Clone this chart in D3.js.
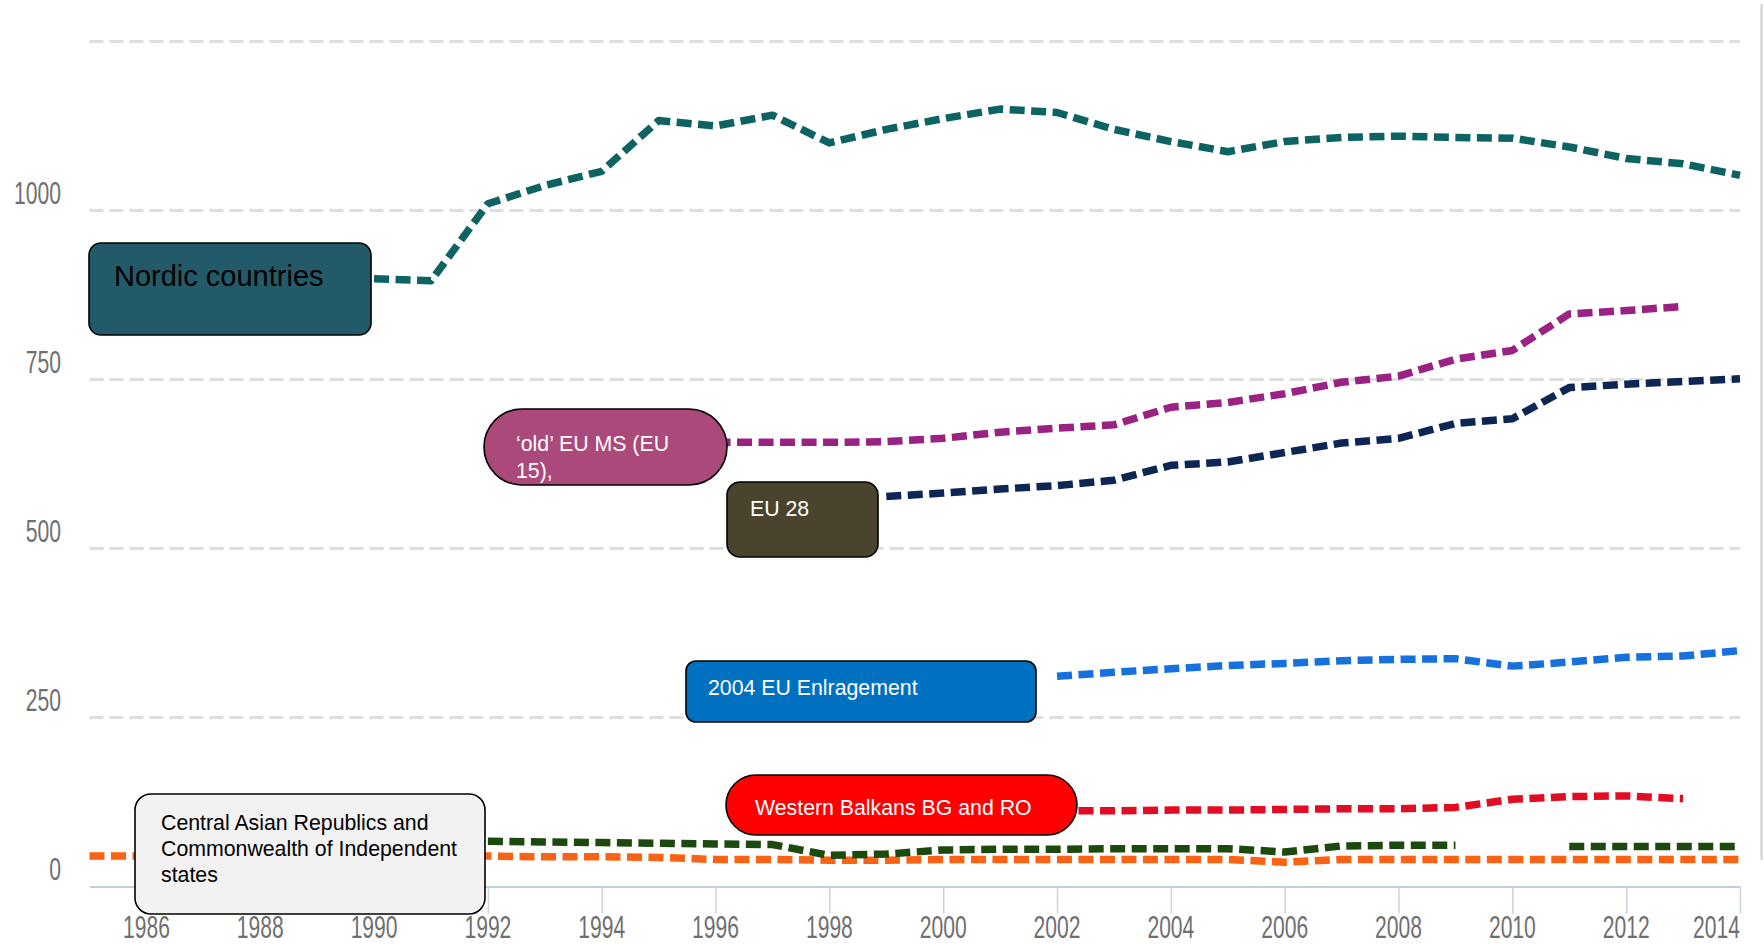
<!DOCTYPE html>
<html>
<head>
<meta charset="utf-8">
<script src="https://cdn.jsdelivr.net/npm/d3@7/dist/d3.min.js"></script>
<style>
  html, body { margin: 0; padding: 0; background: #ffffff; }
  svg { display: block; }
</style>
</head>
<body>
<svg id="chart" width="1764" height="945"></svg>
<script>
// Years on the x axis
const years = [1985,1986,1987,1988,1989,1990,1991,1992,1993,1994,1995,1996,1997,1998,1999,
               2000,2001,2002,2003,2004,2005,2006,2007,2008,2009,2010,2011,2012,2013,2014];

// One value per year, null where a group has no figure
const nordic = [null,null,null,null,null,
  899,896,1010,1037,1058,1133,1125,1141,1100,1120,1136,1150,1145,1120,1102,1087,1102,1108,1110,1108,1107,1094,1077,1069,1052];
const oldEu15 = [null,null,null,null,null,null,null,null,null,null,null,
  657,657,657,658,663,672,678,683,709,716,729,746,755,780,793,847,852,858,null];
const eu28 = [null,null,null,null,null,null,null,null,null,null,null,null,null,null,
  577,582,588,593,601,623,628,642,656,663,685,692,738,743,747,751];
const enlargement2004 = [null,null,null,null,null,null,null,null,null,null,null,null,null,null,null,null,null,
  311,317,322,327,330,334,336,337,326,332,339,341,349];
const westernBalkans = [null,null,null,null,null,null,null,null,null,null,null,null,null,null,null,null,null,
  112,112,113,113,114,115,115,117,129,133,134,130,null];
const centralAsian = [null,null,null,null,null,null,null,
  67,66,65,64,63,62,46,48,54,55,55,56,56,56,51,60,61,61,null,59,59,59,59];
const commonwealth = [45,45,45,45,45,45,45,45,44,44,43,40,40,39,39,40,40,40,40,40,40,36,40,40,40,40,40,40,40,40];

// Axis ticks
const yTickLabels = [0, 250, 500, 750, 1000];
const yGridValues = [250, 500, 750, 1000, 1250];
const xTickLabels = [1986,1988,1990,1992,1994,1996,1998,2000,2002,2004,2006,2008,2010,2012,2014];

// Series drawing order and colours
const seriesList = [
  { name: "commonwealth", values: commonwealth, color: "#fa6212" },
  { name: "centralAsian", values: centralAsian, color: "#1f480c" },
  { name: "westernBalkans", values: westernBalkans, color: "#e10b23" },
  { name: "enlargement2004", values: enlargement2004, color: "#1270dd" },
  { name: "eu28", values: eu28, color: "#0c2552" },
  { name: "oldEu15", values: oldEu15, color: "#9a2083" },
  { name: "nordic", values: nordic, color: "#0c6262" }
];

// Text boxes laid over the lines
const boxes = [
  { lines: ["Nordic countries"], x: 89, y: 243, w: 282, h: 92, r: 12, fill: "#235a69", color: "#000000", size: 29, tx: 114, ty: 286, lh: 0 },
  { lines: ["\u2018old\u2019 EU MS (EU", "15),"], x: 484, y: 409, w: 243, h: 76, r: 38, fill: "#ab4a7a", color: "#ffffff", size: 21.3, tx: 516, ty: 451, lh: 26.5 },
  { lines: ["EU 28"], x: 727, y: 482, w: 151, h: 75, r: 13, fill: "#4a442e", color: "#ffffff", size: 21.3, tx: 750, ty: 516, lh: 0 },
  { lines: ["2004 EU Enlragement"], x: 686, y: 661, w: 350, h: 61, r: 10, fill: "#0070c0", color: "#ffffff", size: 21.3, tx: 708, ty: 695, lh: 0 },
  { lines: ["Western Balkans BG and RO"], x: 726, y: 775, w: 351, h: 60, r: 30, fill: "#ff0000", color: "#ffffff", size: 21.3, tx: 755, ty: 815, lh: 0 },
  { lines: ["Central Asian Republics and", "Commonwealth of Independent", "states"], x: 135, y: 794, w: 350, h: 120, r: 16, fill: "#f2f2f2", color: "#000000", size: 21.3, tx: 161, ty: 830, lh: 25.8 }
];

const svg = d3.select("#chart");

const x = d3.scaleLinear().domain([1985, 2014]).range([89.5, 1740]);
const y = d3.scaleLinear().domain([0, 1250]).range([886.5, 41.5]);

const defs = svg.append("defs");
defs.append("filter").attr("id", "soft")
  .attr("x", "-5%").attr("y", "-50%").attr("width", "110%").attr("height", "200%")
  .append("feGaussianBlur").attr("stdDeviation", 0.7);

// Dashed horizontal grid
svg.append("g")
  .selectAll("line")
  .data(yGridValues)
  .join("line")
  .attr("x1", x(1985)).attr("x2", x(2014))
  .attr("y1", d => y(d)).attr("y2", d => y(d))
  .attr("stroke", "#dedede")
  .attr("stroke-width", 3)
  .attr("stroke-dasharray", "14,6");

// Right frame line
svg.append("line")
  .attr("x1", 1761.5).attr("x2", 1761.5)
  .attr("y1", 4).attr("y2", 860)
  .attr("stroke", "#cdcdcd").attr("stroke-width", 2);

// X axis built from d3.axisBottom, restyled
const xAxis = d3.axisBottom(x)
  .tickValues(xTickLabels)
  .tickFormat(d3.format("d"))
  .tickSize(27)
  .tickSizeOuter(0);

const gx = svg.append("g")
  .attr("transform", `translate(0,${y(0)})`)
  .call(xAxis);
gx.select(".domain").attr("stroke", "#c0cfe0").attr("stroke-width", 2);
gx.selectAll(".tick line").attr("stroke", "#c8d4e3").attr("stroke-width", 1.5);
gx.selectAll(".tick text").remove();

const tickFont = "'Liberation Sans', Arial, sans-serif";
const squeeze = 0.68;

// X tick labels, drawn condensed
const xl = svg.append("g");
xTickLabels.forEach((yr, i) => {
  const last = i === xTickLabels.length - 1;
  xl.append("text")
    .attr("transform", `translate(${x(yr)},938) scale(${squeeze},1)`)
    .attr("text-anchor", last ? "end" : "middle")
    .attr("font-family", tickFont)
    .attr("font-size", 31)
    .attr("fill", "#6f6f6f")
    .text(yr);
});

// Y tick labels sit just above their grid line
const yl = svg.append("g");
yTickLabels.forEach(v => {
  yl.append("text")
    .attr("transform", `translate(61,${y(v) - 7}) scale(0.66,1)`)
    .attr("text-anchor", "end")
    .attr("font-family", tickFont)
    .attr("font-size", 32)
    .attr("fill", "#6f6f6f")
    .text(v);
});

// Series lines
const line = d3.line()
  .defined(d => d.v !== null)
  .x(d => x(d.year))
  .y(d => y(d.v));

svg.append("g")
  .attr("filter", "url(#soft)")
  .selectAll("path")
  .data(seriesList)
  .join("path")
  .attr("d", s => line(years.map((yr, i) => ({ year: yr, v: s.values[i] }))))
  .attr("fill", "none")
  .attr("stroke", s => s.color)
  .attr("stroke-width", 7.5)
  .attr("stroke-dasharray", "15,6.5")
  .attr("stroke-linejoin", "round");

// Callout boxes
const gb = svg.append("g");
boxes.forEach(b => {
  gb.append("rect")
    .attr("x", b.x).attr("y", b.y)
    .attr("width", b.w).attr("height", b.h)
    .attr("rx", b.r).attr("ry", b.r)
    .attr("fill", b.fill)
    .attr("stroke", "#000000")
    .attr("stroke-width", 1.6);
  const t = gb.append("text")
    .attr("font-family", "'Liberation Sans', Arial, sans-serif")
    .attr("font-size", b.size)
    .attr("fill", b.color);
  b.lines.forEach((ln, i) => {
    t.append("tspan").attr("x", b.tx).attr("y", b.ty + i * b.lh).text(ln);
  });
});
</script>
</body>
</html>
